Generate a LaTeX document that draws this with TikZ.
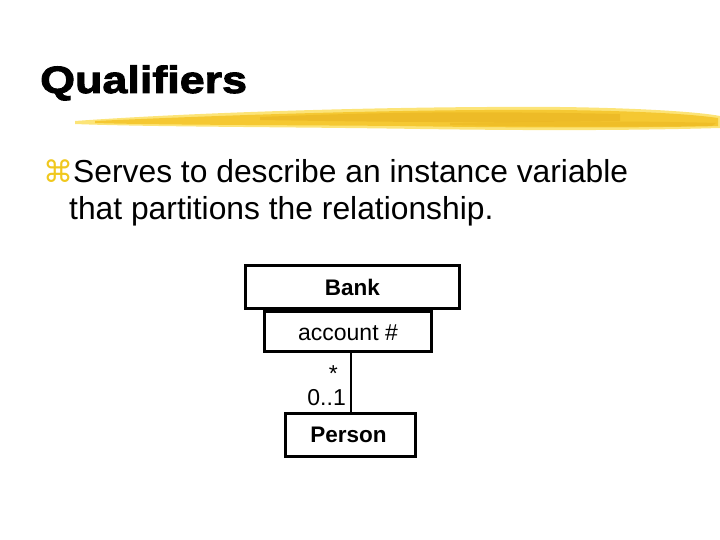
\documentclass[tikz,border=0pt]{standalone}
\usepackage{fontspec}
\setmainfont{Liberation Sans}
\newfontfamily\symfont{DejaVu Sans}
\newfontfamily\titlefont[FakeBold=2.5,FakeStretch=1.18]{Liberation Sans Bold}
\definecolor{brushA}{RGB}{245,200,50}
\definecolor{brushB}{RGB}{252,228,120}
\definecolor{brushC}{RGB}{232,178,30}
\definecolor{bulletc}{RGB}{240,200,30}
\begin{document}
\begin{tikzpicture}[x=1pt,y=-1pt,
  umlbox/.style={draw=black,line width=3pt,inner sep=0pt,anchor=north west},
  boldlbl/.style={font=\bfseries\fontsize{22.5}{26}\selectfont},
  plainlbl/.style={font=\fontsize{23}{27}\selectfont},
  bodytxt/.style={anchor=base west,inner sep=0pt,font=\fontsize{31.8}{37}\selectfont}]
\useasboundingbox (0,0) rectangle (720,540);
% title
\node[anchor=base west,inner sep=0pt,font=\titlefont\fontsize{38}{44}\selectfont] (title) at (40,93) {Qualifiers};
% brush stroke
\fill[brushB] (75,121) .. controls (200,112) and (400,106) .. (560,107) .. controls (640,108) and (700,112) .. (720,116) -- (720,128) .. controls (650,130) and (560,131) .. (420,129) .. controls (300,127) and (150,127) .. (75,124) -- cycle;
\fill[brushA] (95,121) .. controls (250,114) and (420,109) .. (560,110) .. controls (640,111) and (690,114) .. (718,118) -- (718,126) .. controls (640,128) and (520,128) .. (400,126) .. controls (280,125) and (160,125) .. (95,123) -- cycle;
\fill[brushC,opacity=0.55] (260,117) .. controls (380,112) and (480,111) .. (620,114) -- (620,121) .. controls (480,123) and (380,122) .. (260,120) -- cycle;
\fill[brushC,opacity=0.45] (450,123) .. controls (550,121) and (650,121) .. (716,123) -- (712,126) .. controls (620,127) and (540,127) .. (450,125) -- cycle;
% bullet text
\node[anchor=base west,inner sep=0pt,text=bulletc,font=\symfont\fontsize{30}{34}\selectfont] (bul) at (43,183) {⌘};
\node[bodytxt] (txt1) at (73,183) {Serves to describe an instance variable};
\node[bodytxt] (txt2) at (69,220) {that partitions the relationship.};
% diagram
\node[umlbox,minimum width=214pt,minimum height=43pt] (bank) at (244,264) {};
\node[boldlbl] at (bank.center) {Bank};
\node[umlbox,minimum width=167pt,minimum height=40pt] (acc) at (263,310) {};
\node[plainlbl] at ([yshift=-1pt]acc.center) {account \#};
\node[umlbox,minimum width=130pt,minimum height=43pt] (person) at (284,412) {};
\node[boldlbl] at ([xshift=-2pt]person.center) {Person};
\coordinate (top) at (351,352);
\coordinate (bot) at (351,413);
\draw[line width=1.5pt] (top) -- (bot);
\node[plainlbl,anchor=base east,inner sep=0pt] (star) at (338,381) {*};
\node[plainlbl,anchor=base east,inner sep=0pt] (mult) at (346,405) {0..1};
\end{tikzpicture}
\end{document}
